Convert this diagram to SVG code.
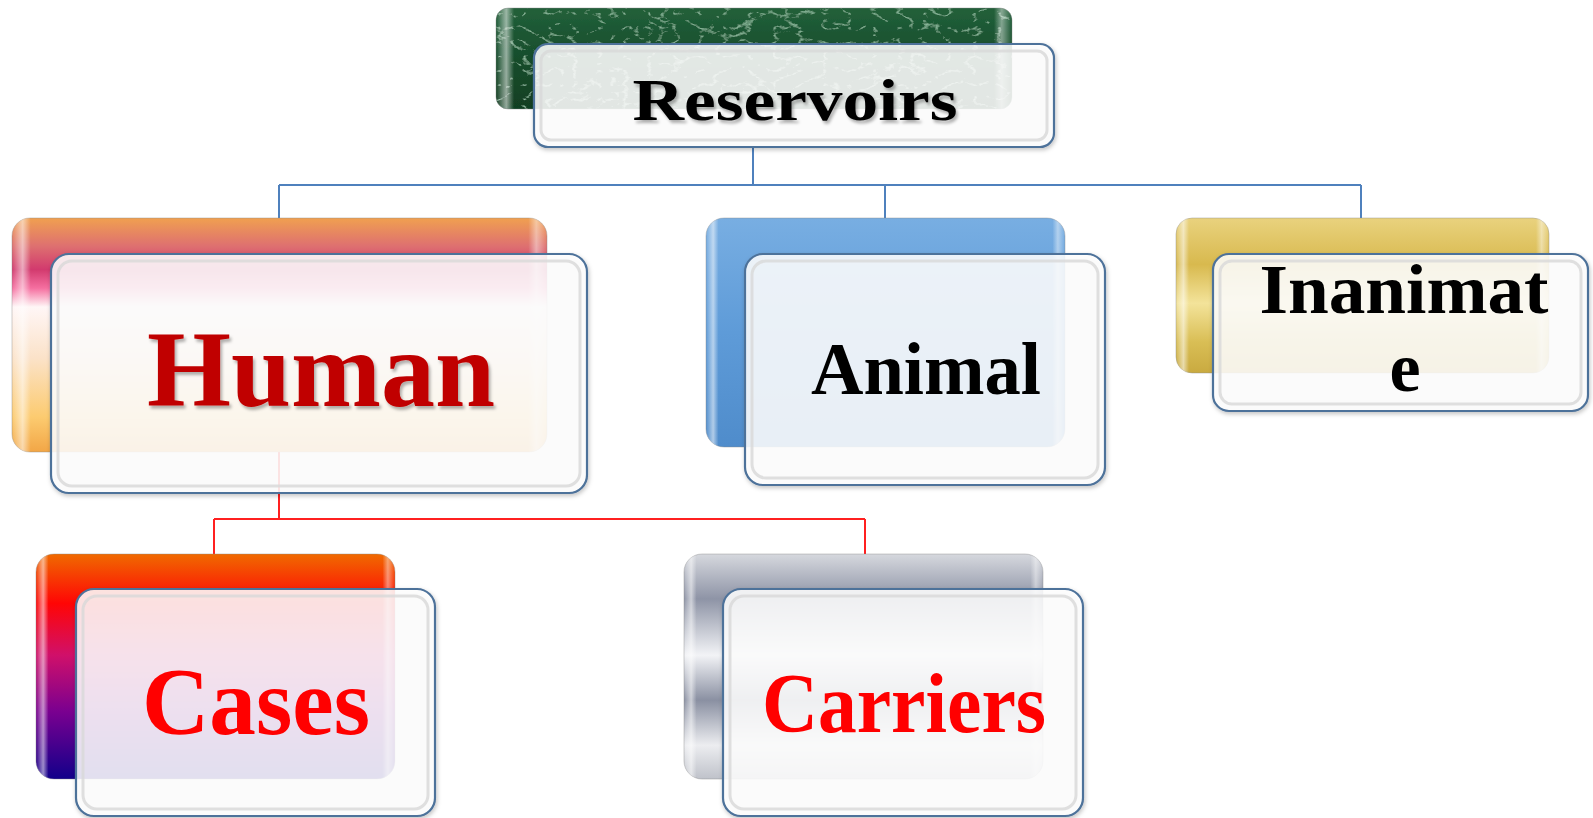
<svg xmlns="http://www.w3.org/2000/svg" width="1593" height="818" viewBox="0 0 1593 818">
<defs>
  <style>
    .front{fill:#ffffff;fill-opacity:0.86;stroke:#4E729A;stroke-width:2.2}
    .inner{fill:none;stroke:#d8d8d8;stroke-width:3;stroke-opacity:0.8}
    .back{stroke:#8a8a8a;stroke-width:1;stroke-opacity:0.4}
    .lbl{font-family:"Liberation Serif","Times New Roman",serif;font-weight:bold;text-anchor:middle}
    .conB{fill:none;stroke:#4F81BD;stroke-width:2}
    .conR{fill:none;stroke:#FF2020;stroke-width:2}
  </style>
  <filter id="tsh" x="-10%" y="-10%" width="120%" height="130%">
    <feDropShadow dx="2" dy="3" stdDeviation="1.5" flood-color="#000" flood-opacity="0.3"/>
  </filter>
  <filter id="bsh" x="-5%" y="-5%" width="115%" height="120%">
    <feDropShadow dx="1" dy="2" stdDeviation="2" flood-color="#000" flood-opacity="0.25"/>
  </filter>
  <filter id="marble" x="0" y="0" width="100%" height="100%">
    <feTurbulence type="turbulence" baseFrequency="0.04 0.07" numOctaves="4" seed="5" result="n"/>
    <feColorMatrix in="n" type="matrix" values="0 0 0 0 0.36  0 0 0 0 0.66  0 0 0 0 0.46  0 0 0 -4 0.75" result="c"/>
    <feComposite in="c" in2="SourceGraphic" operator="in" result="t"/>
    <feMerge><feMergeNode in="SourceGraphic"/><feMergeNode in="t"/></feMerge>
  </filter>
  <linearGradient id="gGreen" x1="0" y1="0" x2="0" y2="1">
    <stop offset="0" stop-color="#22603a"/>
    <stop offset="0.5" stop-color="#174d2c"/>
    <stop offset="1" stop-color="#113f23"/>
  </linearGradient>
  <linearGradient id="gHuman" x1="0" y1="0" x2="0" y2="1">
    <stop offset="0" stop-color="#F0A050"/>
    <stop offset="0.12" stop-color="#DE7070"/>
    <stop offset="0.22" stop-color="#D23A6E"/>
    <stop offset="0.3" stop-color="#F56FA0"/>
    <stop offset="0.38" stop-color="#FFF6F6"/>
    <stop offset="0.6" stop-color="#FBE2C8"/>
    <stop offset="0.85" stop-color="#FCCB70"/>
    <stop offset="1" stop-color="#F2A646"/>
  </linearGradient>
  <linearGradient id="gAnimal" x1="0" y1="0" x2="0" y2="1">
    <stop offset="0" stop-color="#78AEE2"/>
    <stop offset="0.5" stop-color="#5E9BD8"/>
    <stop offset="1" stop-color="#4F8CCB"/>
  </linearGradient>
  <linearGradient id="gGold" x1="0" y1="0" x2="0" y2="1">
    <stop offset="0" stop-color="#E9D27E"/>
    <stop offset="0.3" stop-color="#D8B94E"/>
    <stop offset="0.55" stop-color="#F3E39A"/>
    <stop offset="0.8" stop-color="#D9BE55"/>
    <stop offset="1" stop-color="#C9AA40"/>
  </linearGradient>
  <linearGradient id="gCases" x1="0" y1="0" x2="0" y2="1">
    <stop offset="0" stop-color="#F06A00"/>
    <stop offset="0.22" stop-color="#FF0505"/>
    <stop offset="0.45" stop-color="#D0106A"/>
    <stop offset="0.7" stop-color="#7A0090"/>
    <stop offset="1" stop-color="#12008A"/>
  </linearGradient>
  <linearGradient id="gSilver" x1="0" y1="0" x2="0" y2="1">
    <stop offset="0" stop-color="#D6D8DE"/>
    <stop offset="0.2" stop-color="#8E94A6"/>
    <stop offset="0.45" stop-color="#F2F3F6"/>
    <stop offset="0.65" stop-color="#8A90A2"/>
    <stop offset="0.85" stop-color="#ECEDF0"/>
    <stop offset="1" stop-color="#BFC2CA"/>
  </linearGradient>
  <linearGradient id="gEdge" x1="0" y1="0" x2="1" y2="0">
    <stop offset="0" stop-color="#ffffff" stop-opacity="0"/>
    <stop offset="0.02" stop-color="#ffffff" stop-opacity="0.55"/>
    <stop offset="0.035" stop-color="#ffffff" stop-opacity="0"/>
    <stop offset="0.965" stop-color="#ffffff" stop-opacity="0"/>
    <stop offset="0.98" stop-color="#ffffff" stop-opacity="0.45"/>
    <stop offset="1" stop-color="#ffffff" stop-opacity="0"/>
  </linearGradient>
</defs>
<rect width="1593" height="818" fill="#ffffff"/>

<g id="connectors">
  <path class="conB" d="M753 147 V185 M279 185 H1361 M279 185 V219 M885 185 V219 M1361 185 V219"/>
  <path class="conR" d="M279 452 V519 M214 519 H865 M214 519 V554 M865 519 V554"/>
</g>

<g id="node-reservoirs">
  <rect x="496" y="8" width="516" height="101" rx="12" fill="url(#gGreen)" filter="url(#marble)"/>
  <rect x="496" y="8" width="516" height="101" rx="12" fill="url(#gEdge)" class="back"/>
  <rect x="534" y="44" width="520" height="103" rx="14" class="front" filter="url(#bsh)"/>
  <rect x="541" y="51" width="506" height="89" rx="10" class="inner"/>
  <text x="795" y="120" class="lbl" font-size="60" fill="#000" textLength="325" lengthAdjust="spacingAndGlyphs" filter="url(#tsh)">Reservoirs</text>
</g>

<g id="node-human">
  <rect x="12" y="218" width="535" height="234" rx="18" fill="url(#gHuman)" class="back"/>
  <rect x="12" y="218" width="535" height="234" rx="18" fill="url(#gEdge)"/>
  <rect x="51" y="254" width="536" height="239" rx="18" class="front" filter="url(#bsh)"/>
  <rect x="58" y="261" width="522" height="225" rx="14" class="inner"/>
  <text x="321" y="406" class="lbl" font-size="108" fill="#C00000" textLength="348" lengthAdjust="spacingAndGlyphs" filter="url(#tsh)">Human</text>
</g>

<g id="node-animal">
  <rect x="706" y="218" width="359" height="229" rx="18" fill="url(#gAnimal)" class="back"/>
  <rect x="706" y="218" width="359" height="229" rx="18" fill="url(#gEdge)"/>
  <rect x="745" y="254" width="360" height="231" rx="18" class="front" filter="url(#bsh)"/>
  <rect x="752" y="261" width="346" height="217" rx="14" class="inner"/>
  <text x="926" y="394" class="lbl" font-size="74" fill="#000" textLength="230" lengthAdjust="spacingAndGlyphs">Animal</text>
</g>

<g id="node-inanimate">
  <rect x="1176" y="218" width="373" height="155" rx="16" fill="url(#gGold)" class="back"/>
  <rect x="1176" y="218" width="373" height="155" rx="16" fill="url(#gEdge)"/>
  <rect x="1213" y="254" width="375" height="157" rx="16" class="front" filter="url(#bsh)"/>
  <rect x="1220" y="261" width="361" height="143" rx="12" class="inner"/>
  <text x="1404" y="313" class="lbl" font-size="70" fill="#000" textLength="289" lengthAdjust="spacingAndGlyphs">Inanimat</text>
  <text x="1405" y="391" class="lbl" font-size="70" fill="#000">e</text>
</g>

<g id="node-cases">
  <rect x="36" y="554" width="359" height="225" rx="18" fill="url(#gCases)" class="back"/>
  <rect x="36" y="554" width="359" height="225" rx="18" fill="url(#gEdge)"/>
  <rect x="76" y="589" width="359" height="227" rx="18" class="front" filter="url(#bsh)"/>
  <rect x="83" y="596" width="345" height="213" rx="14" class="inner"/>
  <text x="256" y="734" class="lbl" font-size="96" fill="#FF0000" textLength="228" lengthAdjust="spacingAndGlyphs">Cases</text>
</g>

<g id="node-carriers">
  <rect x="684" y="554" width="359" height="225" rx="18" fill="url(#gSilver)" class="back"/>
  <rect x="684" y="554" width="359" height="225" rx="18" fill="url(#gEdge)"/>
  <rect x="723" y="589" width="360" height="227" rx="18" class="front" filter="url(#bsh)"/>
  <rect x="730" y="596" width="346" height="213" rx="14" class="inner"/>
  <text x="904" y="732" class="lbl" font-size="84" fill="#FF0000" textLength="284" lengthAdjust="spacingAndGlyphs">Carriers</text>
</g>
</svg>
